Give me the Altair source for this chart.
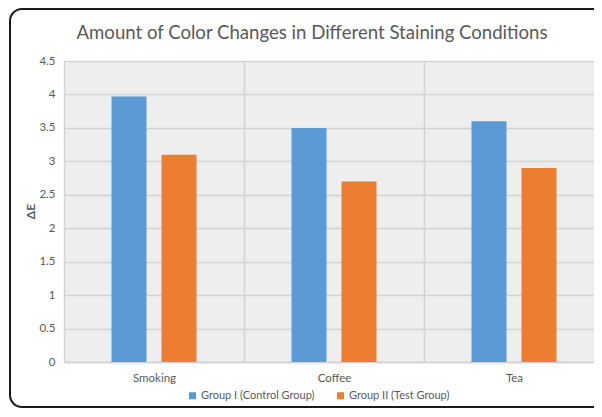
import altair as alt
import pandas as pd

title_text = "Amount of Color Changes in Different Staining Conditions"
categories = ["Smoking", "Coffee", "Tea"]
groups = ["Group I (Control Group)", "Group II (Test Group)"]
group1_values = [3.97, 3.5, 3.6]
group2_values = [3.1, 2.7, 2.9]
y_ticks = [0, 0.5, 1, 1.5, 2, 2.5, 3, 3.5, 4, 4.5]
colors = ["#5B9BD5", "#ED7D31"]

rows = []
for c, v1, v2 in zip(categories, group1_values, group2_values):
    rows.append({"category": c, "group": groups[0], "value": v1})
    rows.append({"category": c, "group": groups[1], "value": v2})
df = pd.DataFrame(rows)

FONT = "Lato"
TEXT = "#595959"
GRID = "#d3d3d3"

bars = alt.Chart(df).mark_bar().encode(
    x=alt.X("category:N", sort=categories, title=None,
            scale=alt.Scale(paddingInner=0, paddingOuter=0, range=[0, 540]),
            axis=alt.Axis(labelAngle=0, ticks=False, domain=True, domainColor=GRID,
                          domainWidth=1.5, grid=True, gridColor=GRID, gridWidth=1.5,
                          tickBand="extent", labelColor=TEXT, labelFontSize=11.5,
                          labelFont=FONT, labelPadding=10)),
    xOffset=alt.XOffset("group:N", sort=groups,
                        scale=alt.Scale(paddingInner=0.3, paddingOuter=0.95)),
    y=alt.Y("value:Q", scale=alt.Scale(domain=[0, 4.5], nice=False),
            axis=alt.Axis(values=y_ticks, format="~g", title="ΔE", ticks=False,
                          domain=False, grid=True, gridColor=GRID, gridWidth=1.5,
                          labelColor=TEXT, labelFontSize=11.5, labelFont=FONT,
                          labelPadding=9, titleFont=FONT, titleFontSize=12,
                          titleFontWeight="bold", titleColor=TEXT, titleX=-34,
                          titleY=150, titleAlign="center", titleBaseline="middle",
                          titleAngle=270)),
    color=alt.Color("group:N", sort=groups,
                    scale=alt.Scale(domain=groups, range=colors),
                    legend=alt.Legend(orient="none", legendX=123, legendY=329,
                                      direction="horizontal", title=None,
                                      symbolType="square", symbolSize=50,
                                      symbolStrokeWidth=0, labelFontSize=11,
                                      labelFont=FONT, labelColor=TEXT,
                                      columnPadding=20, labelOffset=3)),
)

title = alt.Chart(alt.Data(values=[{"t": title_text}])).mark_text(
    font=FONT, fontSize=18.6, color=TEXT, align="center", baseline="alphabetic"
).encode(text="t:N", x=alt.value(248), y=alt.value(-22))

border = alt.Chart(alt.Data(values=[{}])).mark_rect(
    filled=False, stroke="#1a1a1a", strokeWidth=2, cornerRadius=12
).encode(x=alt.value(-54), x2=alt.value(600), y=alt.value(-52), y2=alt.value(346))

chart = alt.layer(bars, title, border).properties(
    width=530,
    height=301,
    autosize=alt.AutoSizeParams(type="none"),
    padding={"left": 56, "top": 53, "right": 0, "bottom": 47},
    background="white",
).configure_view(fill="#eeeeee", stroke="transparent")

chart.save("out.html", embed_options={"renderer": "svg", "actions": False})
